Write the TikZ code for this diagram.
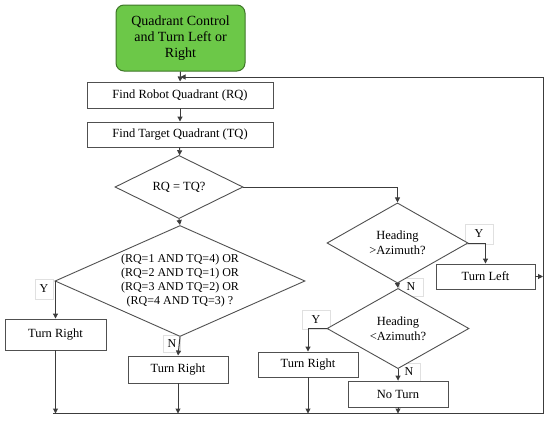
\documentclass[tikz,border=0pt]{standalone}
\usepackage{fontspec}
\setmainfont{Liberation Serif}
\usetikzlibrary{shapes.geometric,arrows.meta}
\definecolor{gfill}{RGB}{108,200,72}
\definecolor{gdraw}{RGB}{62,118,40}
\definecolor{lin}{RGB}{60,60,60}
\begin{document}
\begin{tikzpicture}[x=1pt,y=-1pt,
  every node/.style={font=\fontsize{12.5}{15}\selectfont},
  startbox/.style={draw=gdraw,fill=gfill,rounded corners=8pt,line width=1pt,minimum width=129pt,minimum height=66pt,align=center,inner sep=0pt,font=\fontsize{14}{16}\selectfont},
  procbox/.style={draw=lin!90,line width=0.9pt,minimum height=25pt,inner sep=0pt,fill=white},
  dia/.style={draw=lin!90,line width=0.9pt,shape=diamond,inner sep=0pt,align=center,fill=white},
  lab/.style={draw=black!12,line width=0.5pt,fill=white,inner sep=0pt,minimum width=17pt,minimum height=19pt,font=\fontsize{12}{14}\selectfont},
  conn/.style={draw=lin,line width=1pt},
  arr/.style={conn,-{Triangle[length=5pt,width=5pt]}}
]
\useasboundingbox (0,0) rectangle (550,424);

% labels (behind connectors)
\node[lab,minimum width=18pt,minimum height=20pt] (ly2) at (44,289) {Y};
\node[lab,minimum width=17pt,minimum height=17pt] (ln2) at (172,344) {N};
\node[lab,minimum width=28pt,minimum height=20pt] (ly3) at (479,234) {Y};
\node[lab,minimum width=24pt,minimum height=18pt] (ln3) at (411,287) {N};
\node[lab,minimum width=28pt,minimum height=19pt] (ly4) at (316,320) {Y};
\node[lab,minimum width=22pt,minimum height=18pt] (ln4) at (409,372) {N};

% nodes
\node[startbox] (start) at (180.5,38) {Quadrant Control\\and Turn Left or\\Right};
\node[procbox,minimum width=186pt,minimum height=26pt] (b1) at (180,95) {Find Robot Quadrant (RQ)};
\node[procbox,minimum width=186pt] (b2) at (180,134.5) {Find Target Quadrant (TQ)};
\node[dia,minimum width=128pt,minimum height=50pt] (d1) at (179,187) {RQ = TQ?};
\node[dia,minimum width=250pt,minimum height=111pt] (d2) at (180,281) {};
\node[align=center,inner sep=0pt,font=\fontsize{12}{14}\selectfont] (d2t) at (d2.center) {(RQ=1 AND TQ=4) OR\\(RQ=2 AND TQ=1) OR\\(RQ=3 AND TQ=2) OR\\(RQ=4 AND TQ=3) ?};
\node[procbox,minimum width=101pt,minimum height=31pt] (tr1) at (55.5,334.5) {Turn Right};
\node[procbox,minimum width=100pt,minimum height=27pt] (tr2) at (178,369.5) {Turn Right};
\node[dia,minimum width=141pt,minimum height=62pt] (d3) at (397.5,243) {Heading\\>Azimuth?};
\node[procbox,minimum width=99pt] (tl) at (485.5,276.5) {Turn Left};
\node[dia,minimum width=142pt,minimum height=67pt] (d4) at (398,328.5) {Heading\\<Azimuth?};
\node[procbox,minimum width=100pt] (tr3) at (308,364.5) {Turn Right};
\node[procbox,minimum width=100pt,minimum height=26pt] (nt) at (398,394) {No Turn};

% connector points
\coordinate (bl) at (53,413.5);
\coordinate (br) at (543,413.5);
\coordinate (tr) at (543,77);
\coordinate (mj) at (180.5,77);
\coordinate (rj) at (543,276.5);

% connectors
\draw[arr] (start.south) -- (b1.north);
\draw[arr] (b1) -- (b2);
\draw[arr] (b2) -- (d1);
\draw[arr] (d1.south) -- (d2.north);
\draw[arr] (d1.east) -| (d3.north);
\draw[arr] (d3.east) -| (tl.north);
\draw[arr] (d3.south) -- (d4.north);
\draw[arr] (d4.west) -| (tr3.north);
\draw[arr] (d4.south) -- (nt.north);
\draw[arr] (d2.west) -| (tr1.north);
\draw[arr] (d2.south) -- (tr2.north);
\draw[arr] (tl.east) -- (rj);
\draw[arr] (tr1.south) -- (tr1.south |- bl);
\draw[arr] (tr2.south) -- (tr2.south |- bl);
\draw[arr] (tr3.south) -- (tr3.south |- bl);
\draw[arr] (nt.south) -- (nt.south |- bl);
\draw[arr] (bl) -- (br) -- (tr) -- (mj);
\end{tikzpicture}
\end{document}
